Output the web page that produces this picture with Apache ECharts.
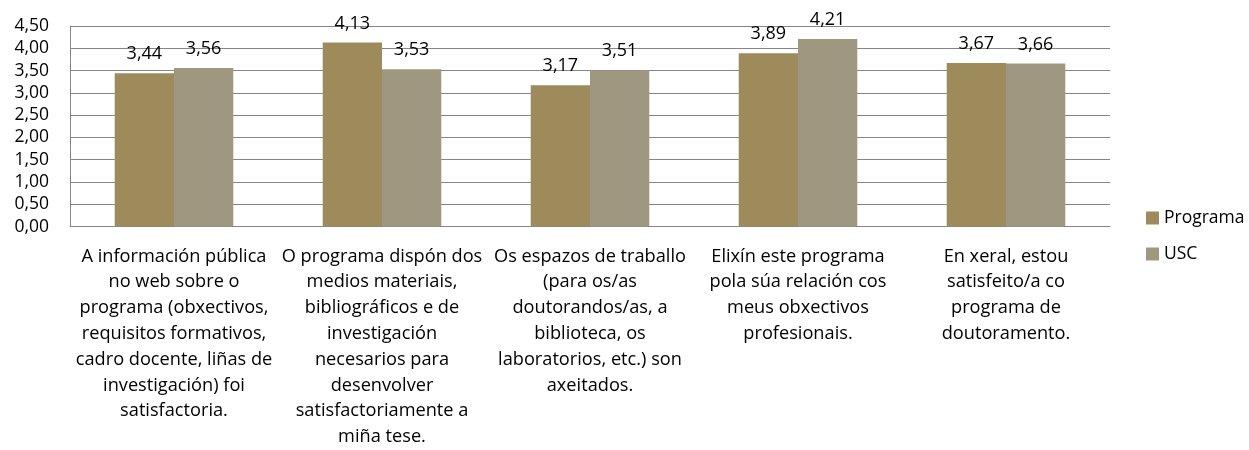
<!DOCTYPE html>
<html>
<head>
<meta charset="utf-8">
<script src="https://cdn.jsdelivr.net/npm/echarts@6/dist/echarts.min.js"></script>
<style>
html, body { margin: 0; padding: 0; background: #fff; }
#chart { width: 1249px; height: 450px; }
</style>
</head>
<body>
<div id="chart"></div>
<script>
// category labels, one entry per line as in the reference
var categoryLines = [
	["A información pública", "no web sobre o", "programa (obxectivos,", "requisitos formativos,", "cadro docente, liñas de", "investigación) foi", "satisfactoria."],
	["O programa dispón dos", "medios materiais,", "bibliográficos e de", "investigación", "necesarios para", "desenvolver", "satisfactoriamente a", "miña tese."],
	["Os espazos de traballo", "(para os/as", "doutorandos/as, a", "biblioteca, os", "laboratorios, etc.) son", "axeitados."],
	["Elixín este programa", "pola súa relación cos", "meus obxectivos", "profesionais."],
	["En xeral, estou", "satisfeito/a co", "programa de", "doutoramento."]
];
var categories = categoryLines.map(function(l) { return l.join("\n"); });
var seriesNames = ["Programa", "USC"];
var programaValues = [3.44, 4.13, 3.17, 3.89, 3.67];
var uscValues = [3.56, 3.53, 3.51, 4.21, 3.66];

var FONT = "Open Sans";
function comma(v) {
	return Number(v).toFixed(2).replace(".", ",");
}

var chart = echarts.init(document.getElementById("chart"));
var option = {
	animation: false,
	backgroundColor: "#fff",
	textStyle: { fontFamily: FONT, color: "#000" },
	grid: { left: 70, right: 139, top: 26, bottom: 218, containLabel: false },
	legend: {
		orient: "vertical",
		left: 1141,
		top: 204,
		itemWidth: 13,
		itemHeight: 13,
		itemGap: 18,
		icon: "rect",
		textStyle: { fontFamily: FONT, fontSize: 17.5, color: "#000" },
		data: seriesNames
	},
	xAxis: {
		type: "category",
		data: categories,
		axisLine: { lineStyle: { color: "#868686", width: 1 } },
		axisTick: { show: false },
		axisLabel: {
			interval: 0,
			margin: 17,
			fontFamily: FONT,
			fontSize: 18.2,
			lineHeight: 25.8,
			color: "#000",
			align: "center"
		}
	},
	yAxis: {
		type: "value",
		min: 0,
		max: 4.5,
		interval: 0.5,
		axisLine: { show: true, lineStyle: { color: "#868686", width: 1 } },
		axisTick: { show: false },
		splitLine: { lineStyle: { color: "#868686", width: 1 } },
		axisLabel: {
			margin: 21,
			fontFamily: FONT,
			fontSize: 17.5,
			color: "#000",
			formatter: function(v) { return comma(v); }
		}
	},
	series: [
		{
			name: seriesNames[0],
			type: "bar",
			data: programaValues,
			barGap: "0%",
			barCategoryGap: "43%",
			itemStyle: { color: "#9d8b5b" },
			label: {
				show: true,
				position: "top",
				distance: 10,
				fontFamily: FONT,
				fontSize: 18,
				color: "#000",
				formatter: function(p) { return comma(p.value); }
			}
		},
		{
			name: seriesNames[1],
			type: "bar",
			data: uscValues,
			itemStyle: { color: "#9f977f" },
			label: {
				show: true,
				position: "top",
				distance: 10,
				fontFamily: FONT,
				fontSize: 18,
				color: "#000",
				formatter: function(p) { return comma(p.value); }
			}
		}
	]
};
chart.setOption(option);
</script>
</body>
</html>
